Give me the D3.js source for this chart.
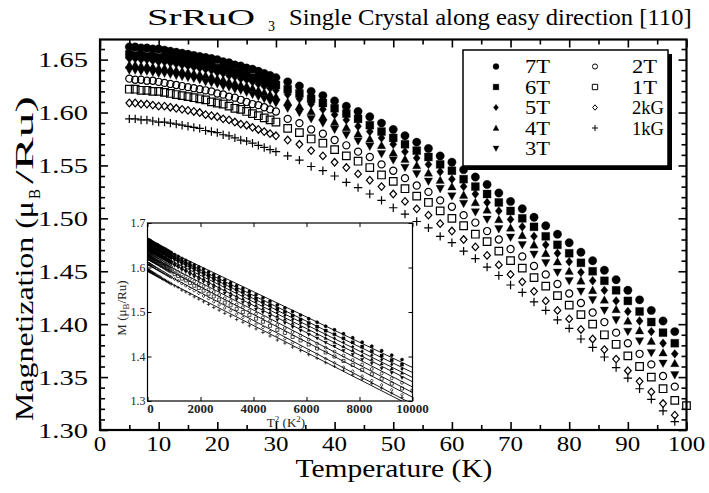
<!DOCTYPE html>
<html><head><meta charset="utf-8">
<script src="https://cdn.jsdelivr.net/npm/d3@7"></script>
<style>
body{margin:0;background:#fff}
svg{display:block}
text{font-family:"Liberation Serif","Times New Roman",serif}
</style>
</head><body>
<svg id="chart" width="709" height="493"></svg>
<script>
// ---------------- DATA ----------------
const tempsLow = [5,6,7,8,9,10,11,12,13,14,15,16,17,18,19,20,21,22,23,24,25,26,27,28,29,30];
const tempsHigh = [32,34,36,38,40,42,44,46,48,50,52,54,56,58,60,62,64,66,68,70,72,74,76,78,80,82,84,86,88,90,92,94,96,98];
const fieldLabels = ["7T","6T","5T","4T","3T","2T","1T","2kG","1kG"];

const m7T_low  = [1.662,1.662,1.661,1.661,1.660,1.660,1.659,1.658,1.657,1.656,1.655,1.654,1.653,1.652,1.651,1.650,1.648,1.647,1.645,1.644,1.642,1.641,1.639,1.637,1.635,1.633];
const m6T_low  = [1.655,1.654,1.654,1.653,1.653,1.652,1.652,1.651,1.650,1.649,1.648,1.647,1.646,1.645,1.644,1.642,1.641,1.640,1.638,1.637,1.635,1.633,1.632,1.630,1.628,1.626];
const m5T_low  = [1.651,1.651,1.650,1.650,1.649,1.648,1.648,1.647,1.646,1.645,1.644,1.643,1.642,1.641,1.640,1.638,1.637,1.635,1.634,1.632,1.631,1.629,1.627,1.625,1.623,1.621];
const m4T_low  = [1.645,1.645,1.644,1.644,1.643,1.642,1.642,1.641,1.640,1.639,1.638,1.637,1.636,1.635,1.634,1.632,1.631,1.629,1.628,1.626,1.625,1.623,1.621,1.619,1.617,1.615];
const m3T_low  = [1.640,1.640,1.639,1.639,1.638,1.637,1.637,1.636,1.635,1.634,1.633,1.632,1.631,1.629,1.628,1.627,1.625,1.624,1.622,1.621,1.619,1.617,1.615,1.613,1.611,1.609];
const m2T_low  = [1.632,1.631,1.631,1.630,1.630,1.629,1.628,1.627,1.626,1.625,1.624,1.623,1.622,1.621,1.620,1.618,1.617,1.615,1.614,1.612,1.610,1.608,1.607,1.605,1.603,1.601];
const m1T_low  = [1.622,1.622,1.621,1.621,1.620,1.620,1.619,1.618,1.617,1.616,1.615,1.614,1.613,1.612,1.610,1.609,1.608,1.606,1.604,1.603,1.601,1.599,1.597,1.595,1.593,1.591];
const m2kG_low = [1.609,1.609,1.608,1.608,1.607,1.606,1.606,1.605,1.604,1.603,1.602,1.601,1.600,1.598,1.597,1.596,1.594,1.593,1.591,1.589,1.588,1.586,1.584,1.582,1.580,1.578];
const m1kG_low = [1.594,1.594,1.593,1.593,1.592,1.591,1.591,1.590,1.589,1.588,1.587,1.586,1.585,1.583,1.582,1.581,1.579,1.578,1.576,1.574,1.573,1.571,1.569,1.567,1.565,1.563];

const m7T_high  = [1.629,1.625,1.620,1.616,1.611,1.606,1.601,1.596,1.590,1.584,1.578,1.572,1.566,1.559,1.553,1.546,1.539,1.532,1.524,1.516,1.509,1.501,1.493,1.485,1.477,1.468,1.460,1.451,1.442,1.432,1.423,1.413,1.403,1.393];
const m6T_high  = [1.622,1.618,1.613,1.609,1.604,1.599,1.594,1.588,1.582,1.576,1.570,1.564,1.558,1.551,1.545,1.537,1.530,1.523,1.515,1.507,1.500,1.492,1.483,1.475,1.467,1.458,1.450,1.441,1.432,1.422,1.412,1.402,1.392,1.382];
const m5T_high  = [1.617,1.613,1.608,1.603,1.598,1.593,1.587,1.582,1.576,1.570,1.563,1.557,1.551,1.544,1.537,1.530,1.523,1.515,1.507,1.499,1.492,1.483,1.475,1.467,1.459,1.449,1.441,1.432,1.422,1.412,1.403,1.393,1.382,1.372];
const m4T_high  = [1.610,1.606,1.601,1.596,1.591,1.586,1.580,1.575,1.569,1.562,1.556,1.550,1.543,1.536,1.530,1.522,1.515,1.508,1.499,1.491,1.484,1.475,1.467,1.459,1.450,1.441,1.432,1.423,1.414,1.403,1.394,1.384,1.373,1.363];
const m3T_high  = [1.604,1.600,1.594,1.590,1.584,1.579,1.573,1.568,1.561,1.555,1.548,1.542,1.535,1.528,1.521,1.514,1.506,1.499,1.490,1.482,1.475,1.466,1.458,1.449,1.441,1.431,1.423,1.413,1.404,1.393,1.384,1.373,1.363,1.352];
const m2T_high  = [1.594,1.590,1.584,1.580,1.574,1.569,1.563,1.558,1.551,1.545,1.538,1.531,1.525,1.517,1.511,1.503,1.496,1.488,1.480,1.471,1.464,1.455,1.447,1.438,1.429,1.420,1.411,1.402,1.392,1.382,1.372,1.362,1.351,1.341];
const m1T_high  = [1.585,1.581,1.575,1.571,1.565,1.559,1.554,1.548,1.541,1.535,1.528,1.521,1.515,1.507,1.500,1.493,1.485,1.478,1.469,1.460,1.453,1.444,1.436,1.427,1.418,1.409,1.400,1.390,1.381,1.370,1.360,1.350,1.339,1.328];
const m2kG_high = [1.574,1.570,1.564,1.559,1.553,1.548,1.542,1.536,1.530,1.523,1.516,1.509,1.503,1.495,1.488,1.480,1.473,1.465,1.456,1.447,1.440,1.431,1.422,1.413,1.405,1.395,1.386,1.376,1.367,1.356,1.346,1.336,1.325,1.314];
const m1kG_high = [1.559,1.555,1.549,1.545,1.540,1.534,1.529,1.523,1.517,1.510,1.504,1.497,1.491,1.483,1.477,1.469,1.462,1.454,1.446,1.437,1.430,1.421,1.413,1.404,1.396,1.386,1.378,1.369,1.359,1.349,1.339,1.329,1.318,1.308];

const extraT = [100];            // one extra 1T point at the axis edge
const m1T_extra = [1.323];

const xTicksMain = [0,10,20,30,40,50,60,70,80,90,100];
const yTicksMain = [1.30,1.35,1.40,1.45,1.50,1.55,1.60,1.65];
const xTicksInset = [0,2000,4000,6000,8000,10000];
const yTicksInset = [1.3,1.4,1.5,1.6,1.7];

// ---------------- BUILD ----------------
const lowArr = [m7T_low,m6T_low,m5T_low,m4T_low,m3T_low,m2T_low,m1T_low,m2kG_low,m1kG_low];
const highArr = [m7T_high,m6T_high,m5T_high,m4T_high,m3T_high,m2T_high,m1T_high,m2kG_high,m1kG_high];
const shapes = ["circle","square","diamond","tri","tridown","ocircle","osquare","odiamond","plus"];
const series = fieldLabels.map((name,i)=>{
  const pts = tempsLow.map((t,j)=>({t, m: lowArr[i][j]}))
    .concat(tempsHigh.map((t,j)=>({t, m: highArr[i][j]})));
  if (name === "1T") extraT.forEach((t,j)=>pts.push({t, m: m1T_extra[j]}));
  return {name, shape: shapes[i], pts};
});

function symPath(shape, s){
  switch(shape){
    case "circle": case "ocircle": {
      const r = shape==="circle"? s : s*0.85;
      return `M${-r},0A${r},${r} 0 1,0 ${r},0A${r},${r} 0 1,0 ${-r},0Z`;
    }
    case "square": { const a=s*0.95; return `M${-a},${-a}H${a}V${a}H${-a}Z`; }
    case "osquare": { const a=s*0.9; return `M${-a},${-a}H${a}V${a}H${-a}Z`; }
    case "diamond": return `M0,${-s*1.05}L${s*0.85},0L0,${s*1.05}L${-s*0.85},0Z`;
    case "odiamond": return `M0,${-s*0.9}L${s*0.8},0L0,${s*0.9}L${-s*0.8},0Z`;
    case "tri": return `M0,${-s}L${s},${s*0.8}L${-s},${s*0.8}Z`;
    case "tridown": return `M0,${s}L${s},${-s*0.8}L${-s},${-s*0.8}Z`;
    case "plus": return `M${-s},0H${s}M0,${-s}V${s}`;
  }
}
function styleSym(sel, shape, sw){
  const filled = ["circle","square","diamond","tri","tridown"].includes(shape);
  sel.attr("fill", filled? "#000":"none").attr("stroke","#000").attr("stroke-width", filled? 0.3 : sw);
}
// text stretched horizontally to a target width (keeps the glyph shapes)
function fitText(parent, str, px, py, size, width, anchor, rot){
  const g = parent.append("g").attr("transform", `translate(${px},${py})` + (rot? ` rotate(${rot})` : ""));
  const t = g.append("text").attr("font-size", size).attr("fill","#000").text(str);
  const w = t.node().getComputedTextLength();
  const k = width / w;
  t.attr("transform", `scale(${k},1)`);
  if (anchor === "middle") t.attr("x", -w/2);
  else if (anchor === "end") t.attr("x", -w);
  return t;
}

const svg = d3.select("#chart");
const L=100, R=686.5, T=39.5, B=430;
const x = d3.scaleLinear().domain([0,100]).range([L,R]);
const y = d3.scaleLinear().domain([1.30,1.669]).range([B,T]);

// data markers (main)
const gData = svg.append("g");
series.forEach(s=>{
  gData.selectAll(null).data(s.pts).join("path")
    .attr("transform", d=>`translate(${x(d.t)},${y(d.m)})`)
    .attr("d", symPath(s.shape, 4.2))
    .call(sel=>styleSym(sel, s.shape, 1.2));
});

// axes main
const fr = svg.append("g");
function tickAxis(axisFn, scale, vals, len, transform){
  const g = fr.append("g").attr("transform", transform)
    .call(axisFn(scale).tickValues(vals).tickSize(len).tickFormat(""));
  g.select(".domain").remove();
  g.selectAll("line").attr("stroke","#000").attr("stroke-width",1.6);
}
const xMinor = d3.range(5,100,10);
const yMinor = d3.range(1.30,1.665,0.01).filter(v=>Math.abs(Math.round(v*100)%5)!==0);
tickAxis(d3.axisTop, x, xTicksMain, 8, `translate(0,${B})`);
tickAxis(d3.axisTop, x, xMinor, 5, `translate(0,${B})`);
tickAxis(d3.axisBottom, x, xTicksMain, 8, `translate(0,${T})`);
tickAxis(d3.axisBottom, x, xMinor, 5, `translate(0,${T})`);
tickAxis(d3.axisRight, y, yTicksMain, 8, `translate(${L},0)`);
tickAxis(d3.axisRight, y, yMinor, 5, `translate(${L},0)`);
tickAxis(d3.axisLeft, y, yTicksMain, 8, `translate(${R},0)`);
tickAxis(d3.axisLeft, y, yMinor, 5, `translate(${R},0)`);
fr.append("rect").attr("x",L).attr("y",T).attr("width",R-L).attr("height",B-T)
  .attr("fill","none").attr("stroke","#000").attr("stroke-width",2.2);

// tick labels main
const tl = svg.append("g");
yTicksMain.forEach(v=>fitText(tl, d3.format(".2f")(v), 88, y(v)+7.5, 22, 50, "end"));
xTicksMain.forEach(v=>fitText(tl, String(v), x(v), 451, 22, String(v).length*12.5, "middle"));

// axis titles
fitText(svg, "Temperature (K)", 394, 477, 25, 197, "middle");
fitText(svg, "Magnetization (μ", 33, 421, 25, 220, "start", -90);
fitText(svg, "B", 40, 199, 17, 10, "start", -90);
fitText(svg, "/Ru)", 33, 184, 25, 88, "start", -90);

// title
fitText(svg, "SrRuO", 147, 25, 23, 108, "start");
fitText(svg, "3", 268, 31, 14, 7, "start");
fitText(svg, "Single Crystal along easy direction [110]", 289, 25, 23, 403, "start");

// legend
const lg = svg.append("g");
const lx=463, ly=50, lw=205, lh=116;
lg.append("rect").attr("x",lx+4).attr("y",ly+4).attr("width",lw).attr("height",lh).attr("fill","#000");
lg.append("rect").attr("x",lx).attr("y",ly).attr("width",lw).attr("height",lh).attr("fill","#fff").attr("stroke","#000").attr("stroke-width",1.5);
series.forEach((s,i)=>{
  const col = i<5?0:1, row = i<5? i : i-5;
  const sx = col? 595:496, tx = col? 632:525, ry = 66.5 + row*20.5;
  lg.append("path").attr("transform",`translate(${sx},${ry})`).attr("d",symPath(s.shape,3))
    .call(sel=>styleSym(sel,s.shape,1));
  fitText(lg, s.name, tx, ry+6.5, 19, s.name.length===2? 25 : 32, "start");
});

// ---------------- INSET ----------------
const iL=147.5, iR=412.5, iT=223, iB=401;
const xi = d3.scaleLinear().domain([0,10000]).range([iL,iR]);
const yi = d3.scaleLinear().domain([1.3,1.7]).range([iB,iT]);
const ins = svg.append("g");
ins.append("rect").attr("x",iL).attr("y",iT).attr("width",iR-iL).attr("height",iB-iT).attr("fill","#fff");
svg.append("defs").append("clipPath").attr("id","ic").append("rect")
  .attr("x",iL).attr("y",iT).attr("width",iR-iL).attr("height",iB-iT);
const insC = ins.append("g").attr("clip-path","url(#ic)");
// linear fits of M vs T^2
series.forEach(s=>{
  const xs = s.pts.map(p=>p.t*p.t), ys = s.pts.map(p=>p.m);
  const mx = d3.mean(xs), my = d3.mean(ys);
  const b = d3.sum(xs.map((v,i)=>(v-mx)*(ys[i]-my))) / d3.sum(xs.map(v=>(v-mx)*(v-mx)));
  const a = my - b*mx;
  insC.append("line").attr("x1",xi(0)).attr("y1",yi(a)).attr("x2",xi(10000)).attr("y2",yi(a+b*10000))
    .attr("stroke","#000").attr("stroke-width",0.9);
  insC.selectAll(null).data(s.pts).join("path")
    .attr("transform", d=>`translate(${xi(d.t*d.t)},${yi(d.m)})`)
    .attr("d", symPath(s.shape, 1.7))
    .call(sel=>styleSym(sel, s.shape, 0.7));
});
function insTicks(axisFn, scale, vals, len, transform){
  const g = ins.append("g").attr("transform", transform)
    .call(axisFn(scale).tickValues(vals).tickSize(len).tickFormat(""));
  g.select(".domain").remove();
  g.selectAll("line").attr("stroke","#000").attr("stroke-width",1);
}
insTicks(d3.axisTop, xi, xTicksInset, 4, `translate(0,${iB})`);
insTicks(d3.axisBottom, xi, xTicksInset, 4, `translate(0,${iT})`);
insTicks(d3.axisRight, yi, yTicksInset, 4, `translate(${iL},0)`);
insTicks(d3.axisLeft, yi, yTicksInset, 4, `translate(${iR},0)`);
ins.append("rect").attr("x",iL).attr("y",iT).attr("width",iR-iL).attr("height",iB-iT)
  .attr("fill","none").attr("stroke","#000").attr("stroke-width",1.2);
ins.selectAll("text.yl").data(yTicksInset).join("text").attr("class","yl")
  .attr("x",iL-2).attr("y",d=>yi(d)+4).attr("text-anchor","end").attr("font-size",12)
  .attr("fill","#222")
  .text(d=>d3.format(".1f")(d));
ins.selectAll("text.xl").data(xTicksInset).join("text").attr("class","xl")
  .attr("x",d=>xi(d)+ (d===0?3:0)).attr("y",iB+11.5).attr("text-anchor","middle").attr("font-size",13)
  .attr("font-weight","bold").attr("fill","#222")
  .text(d=>d);
const ixl = ins.append("text").attr("x",286).attr("y",427).attr("text-anchor","middle")
  .attr("font-size",13).attr("fill","#222");
ixl.append("tspan").text("T");
ixl.append("tspan").attr("dy",-5).attr("font-size",9).text("2");
ixl.append("tspan").attr("dy",5).text(" (K");
ixl.append("tspan").attr("dy",-5).attr("font-size",9).text("2");
ixl.append("tspan").attr("dy",5).text(")");
const iyl = ins.append("text").attr("transform",`translate(126,${(iT+iB)/2 - 4}) rotate(-90)`)
  .attr("text-anchor","middle").attr("font-size",13).attr("fill","#222");
iyl.append("tspan").text("M (μ");
iyl.append("tspan").attr("dy",3).attr("font-size",9).text("B");
iyl.append("tspan").attr("dy",-3).text("/Ru)");
</script>
</body></html>
